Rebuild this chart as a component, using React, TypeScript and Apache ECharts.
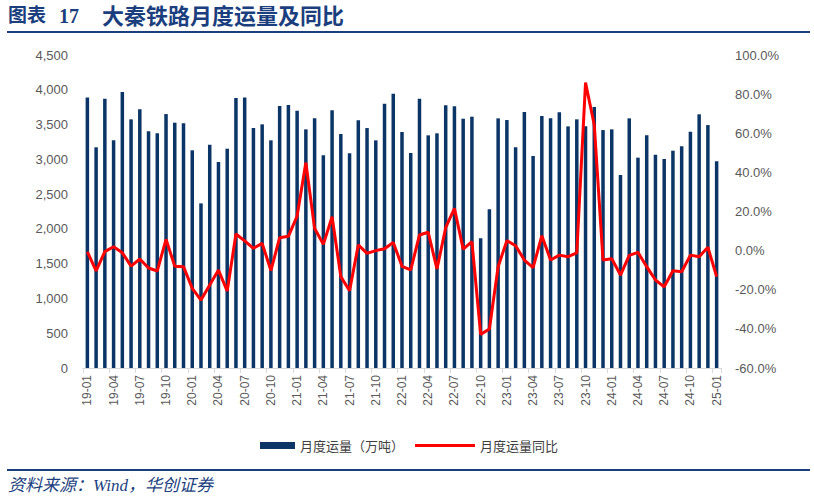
import React, { useEffect, useRef } from "react";
import * as echarts from "echarts";

const months: string[] = (() => {
  const out: string[] = [];
  for (let y = 19; y <= 25; y++) {
    for (let m = 1; m <= 12; m++) {
      if (y === 25 && m > 1) break;
      out.push(`${y}-${m < 10 ? "0" + m : m}`);
    }
  }
  return out;
})();

// 月度运量（万吨）
const volume: number[] = [
  3890, 3173, 3872, 3273, 3968, 3575, 3719, 3403, 3374, 3651, 3527, 3517,
  3130, 2367, 3210, 2961, 3153, 3881, 3890, 3450, 3503, 3273, 3766, 3781,
  3699, 3431, 3589, 3057, 3704, 3364, 3086, 3561, 3450, 3273, 3800, 3944,
  3393, 3091, 3872, 3345, 3374, 3776, 3762, 3584, 3613, 1865, 2281, 3589,
  3565, 3173, 3680, 3048, 3623, 3589, 3676, 3474, 3575, 3475, 3752, 3421,
  3431, 2775, 3589, 3024, 3345, 3067, 3005, 3124, 3187, 3397, 3647, 3493,
  2971,
];

// 月度运量同比（%）
const yoy: number[] = [
  -0.6, -10.3, -0.5, 2.0, -1.1, -7.9, -4.3, -8.9, -10.4, 5.8, -8.0, -8.2,
  -19.3, -25.3, -17.6, -9.9, -20.7, 8.5, 5.0, 1.2, 3.7, -10.2, 6.6, 7.3,
  17.7, 45.0, 11.4, 3.2, 17.3, -13.3, -20.5, 2.9, -1.4, 0.0, 1.0, 4.2,
  -8.0, -9.9, 8.0, 9.4, -9.4, 11.7, 21.6, 0.8, 4.6, -42.8, -40.1, -8.2,
  5.1, 2.5, -4.8, -8.7, 7.6, -4.8, -2.3, -3.1, -1.1, 85.9, 64.2, -4.8,
  -4.1, -12.5, -2.4, -0.9, -8.2, -15.0, -18.5, -10.3, -10.8, -2.3, -3.1, 1.7,
  -13.3,
];

const seriesNames = ["月度运量（万吨）", "月度运量同比"];
const titleLabel = "图表";
const titleNum = "17";
const titleText = "大秦铁路月度运量及同比";
const sourceText = "资料来源：Wind，华创证券";

const NAVY = "#0B3566";
const BLUE = "#1B3F7E";
const GRAY = "#595959";
const SANS = "'Liberation Sans', Arial, 'Noto Sans CJK SC', sans-serif";
const SERIF = "'Liberation Serif', 'Noto Sans CJK SC', serif";

export default function App() {
  const ref = useRef<HTMLDivElement>(null);

  useEffect(() => {
    if (!ref.current) return;
    const chart = echarts.init(ref.current, undefined, { renderer: "svg" });
    chart.setOption({
      animation: false,
      backgroundColor: "#ffffff",
      textStyle: { fontFamily: SANS },
      grid: { left: 83, right: 93, top: 55, bottom: 133, containLabel: false },
      legend: [
        {
          data: [{ name: seriesNames[0], icon: "rect" }],
          left: 255,
          top: 434,
          itemWidth: 35,
          itemHeight: 7,
          itemGap: 5,
          textStyle: { color: "#404040", fontSize: 13, fontFamily: "'Noto Sans CJK SC', sans-serif" },
        },
        {
          data: [{ name: seriesNames[1], icon: "rect" }],
          left: 410,
          top: 434,
          itemWidth: 60,
          itemHeight: 3,
          itemGap: 5,
          textStyle: { color: "#404040", fontSize: 13, fontFamily: "'Noto Sans CJK SC', sans-serif" },
        },
      ],
      xAxis: {
        type: "category",
        data: months,
        boundaryGap: true,
        axisLine: { show: true, lineStyle: { color: "#D9D9D9", width: 1 } },
        axisTick: { show: true, interval: 2, length: 5, lineStyle: { color: "#D9D9D9" } },
        axisLabel: {
          interval: 2,
          rotate: 90,
          color: GRAY,
          fontSize: 12,
          margin: 7,
          fontFamily: SANS,
        },
      },
      yAxis: [
        {
          type: "value",
          min: 0,
          max: 4500,
          interval: 500,
          splitLine: { show: false },
          axisLine: { show: false },
          axisTick: { show: false },
          axisLabel: {
            color: GRAY,
            fontSize: 13,
            margin: 15,
            fontFamily: SANS,
            formatter: (v: number) => v.toLocaleString("en-US"),
          },
        },
        {
          type: "value",
          min: -60,
          max: 100,
          interval: 20,
          splitLine: { show: false },
          axisLine: { show: false },
          axisTick: { show: false },
          axisLabel: {
            color: GRAY,
            fontSize: 13,
            margin: 14,
            fontFamily: SANS,
            formatter: (v: number) => v.toFixed(1) + "%",
          },
        },
      ],
      series: [
        {
          name: seriesNames[0],
          type: "bar",
          data: volume,
          barWidth: 3.5,
          itemStyle: { color: NAVY },
          yAxisIndex: 0,
        },
        {
          name: seriesNames[1],
          type: "line",
          data: yoy,
          yAxisIndex: 1,
          symbol: "none",
          lineStyle: { color: "#FF0000", width: 3 },
          itemStyle: { color: "#FF0000" },
        },
      ],
      graphic: [
        {
          type: "text",
          left: 8,
          top: 6,
          style: { text: titleLabel, fill: BLUE, font: `bold 19px ${SERIF}` },
        },
        {
          type: "text",
          left: 59,
          top: 6,
          style: { text: titleNum, fill: BLUE, font: `bold 20px ${SERIF}` },
        },
        {
          type: "text",
          left: 102,
          top: 5,
          style: { text: titleText, fill: BLUE, font: `bold 22px ${SERIF}` },
        },
        {
          type: "rect",
          shape: { x: 7, y: 31, width: 803, height: 2 },
          style: { fill: BLUE },
        },
        {
          type: "rect",
          shape: { x: 7, y: 469, width: 803, height: 2 },
          style: { fill: BLUE },
        },
        {
          type: "text",
          left: 8,
          top: 477,
          style: { text: sourceText, fill: BLUE, font: `italic 17px ${SERIF}` },
        },
      ],
    });
    return () => chart.dispose();
  }, []);

  return (
    <div
      ref={ref}
      style={{ position: "absolute", left: 0, top: 0, width: 814, height: 501 }}
    />
  );
}
